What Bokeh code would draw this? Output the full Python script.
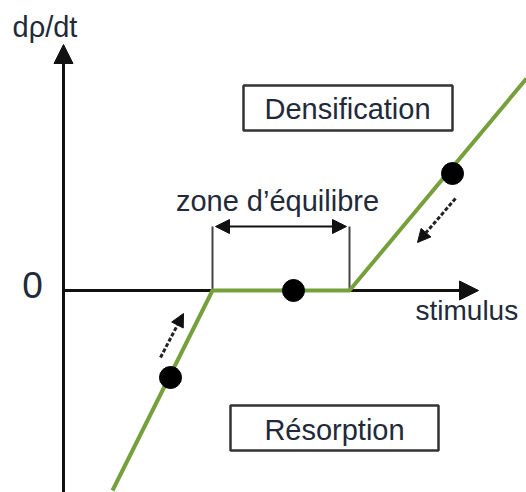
from bokeh.plotting import figure
from bokeh.models import Range1d, Arrow, NormalHead
from bokeh.core.properties import value
from bokeh.embed import file_html
from bokeh.resources import INLINE

# ---- data (schematic units: stimulus vs d rho/dt) ----
curve_stimulus = [49, 149, 286, 463]
curve_drho = [-200, 0, 0, 212]
dots_stimulus = [107, 230, 389]
dots_drho = [-87, 0, 117]
zone_bounds = [149, 286]
zone_height = 64
label_y = "dρ/dt"
label_x = "stimulus"
label_zero = "0"
label_zone = "zone d’équilibre"
label_top = "Densification"
label_bottom = "Résorption"

FONT = value("Liberation Sans")
TXT = "#222a3a"
GREEN = "#76a03c"

p = figure(width=526, height=492, output_backend="svg", toolbar_location=None,
           x_range=Range1d(-63, 463), y_range=Range1d(-202, 290),
           min_border=0, tools="")
p.axis.visible = False
p.grid.visible = False
p.outline_line_color = None
p.background_fill_color = "white"
p.border_fill_color = "white"

# axes (underlay, so the green curve sits on top)
p.add_layout(Arrow(end=NormalHead(size=19, fill_color="#111", line_color="#111"),
                   x_start=0, y_start=-210, x_end=0, y_end=246,
                   line_width=3, line_color="#111", level="underlay"))
p.add_layout(Arrow(end=NormalHead(size=19, fill_color="#111", line_color="#111"),
                   x_start=0, y_start=0, x_end=415, y_end=0,
                   line_width=3, line_color="#111", level="underlay"))

# zone bracket
p.segment(x0=zone_bounds, y0=[0, 0], x1=zone_bounds, y1=[zone_height, zone_height],
          line_color="#444", line_width=2, level="underlay")
p.add_layout(Arrow(start=NormalHead(size=14, fill_color="#111", line_color="#111"),
                   end=NormalHead(size=14, fill_color="#111", line_color="#111"),
                   x_start=zone_bounds[0] + 3, y_start=zone_height,
                   x_end=zone_bounds[1] - 3, y_end=zone_height,
                   line_width=2, line_color="#111"))

# curve and points
p.line(curve_stimulus, curve_drho, line_color=GREEN, line_width=4)
p.scatter(dots_stimulus, dots_drho, size=22, color="black")

# small dashed arrows showing the drift
p.add_layout(Arrow(end=NormalHead(size=13, fill_color="#111", line_color="#111"),
                   x_start=dots_stimulus[0] - 10, y_start=dots_drho[0] + 20,
                   x_end=dots_stimulus[0] + 13, y_end=dots_drho[0] + 64,
                   line_width=3, line_color="#222", line_dash="4 2"))
p.add_layout(Arrow(end=NormalHead(size=13, fill_color="#111", line_color="#111"),
                   x_start=dots_stimulus[2] + 3, y_start=dots_drho[2] - 25,
                   x_end=dots_stimulus[2] - 35, y_end=dots_drho[2] - 69,
                   line_width=3, line_color="#222", line_dash="4 2"))

# boxes
p.quad(left=[180, 167], right=[389, 375], bottom=[160, -160], top=[205, -115],
       fill_color="white", line_color="#333", line_width=2.5)

# texts
p.text(x=[284], y=[182], text=[label_top], text_font=FONT, text_font_size="29px",
       text_color=TXT, text_align="center", text_baseline="alphabetic")
p.text(x=[271], y=[-139], text=[label_bottom], text_font=FONT, text_font_size="29px",
       text_color=TXT, text_align="center", text_baseline="alphabetic")
p.text(x=[214], y=[90], text=[label_zone], text_font=FONT, text_font_size="29px",
       text_color=TXT, text_align="center", text_baseline="alphabetic")
p.text(x=[352], y=[-20], text=[label_x], text_font=FONT, text_font_size="28px",
       text_color=TXT, text_align="left", text_baseline="alphabetic")
p.text(x=[-51], y=[264], text=[label_y], text_font=FONT, text_font_size="29px",
       text_color=TXT, text_align="left", text_baseline="alphabetic")
p.text(x=[-31], y=[6], text=[label_zero], text_font=FONT, text_font_size="37px",
       text_color=TXT, text_align="center", text_baseline="alphabetic")

open("out.html", "w").write(file_html(p, INLINE))
